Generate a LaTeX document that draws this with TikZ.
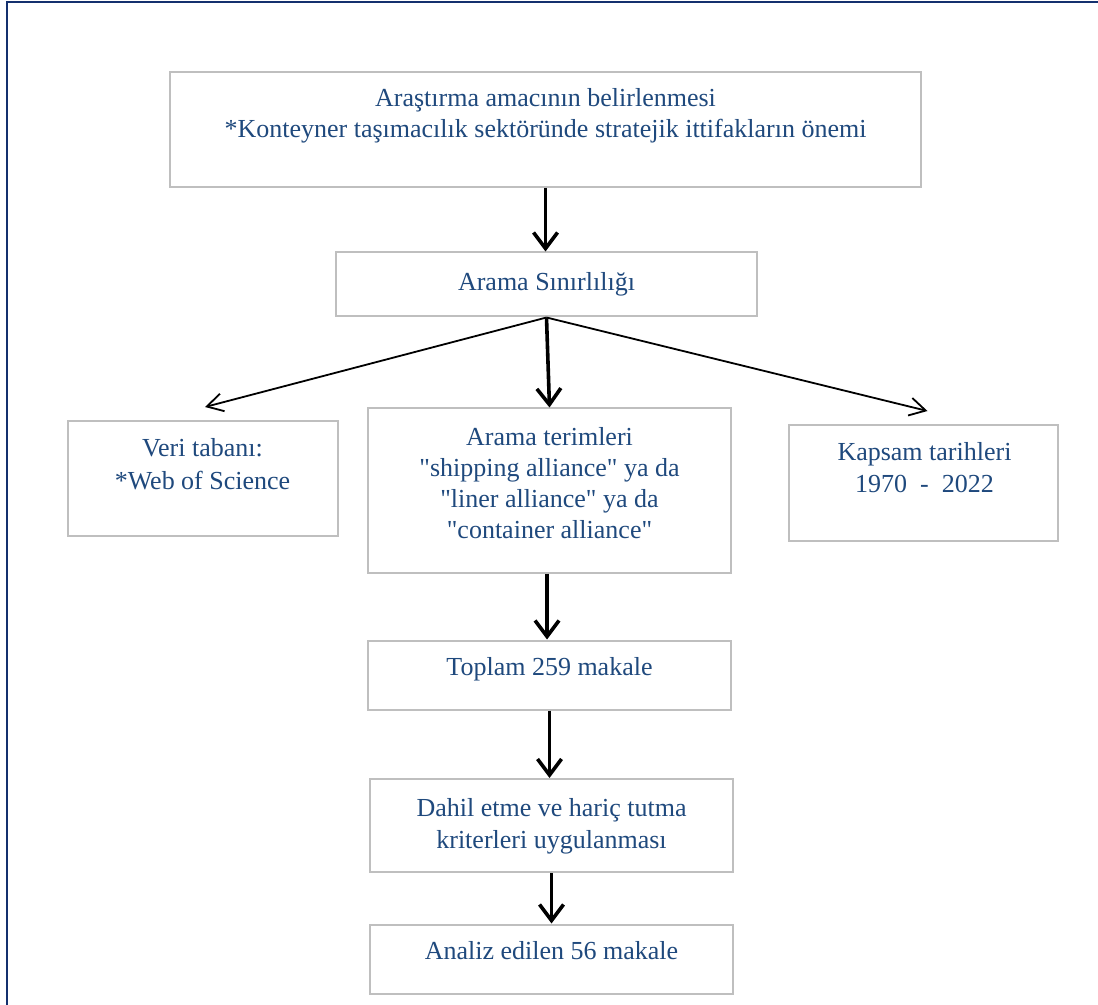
\documentclass[tikz,border=0pt]{standalone}
\usepackage{fontspec}
\setmainfont{Liberation Serif}[Ligatures=TeXOff]
\usetikzlibrary{arrows.meta}
\definecolor{txtblue}{HTML}{1F497D}
\definecolor{frameblue}{HTML}{14306E}
\definecolor{boxgray}{HTML}{BFBFBF}
\newcommand\mylines[1]{\begin{tabular}[t]{@{}c@{}}#1\end{tabular}}
\begin{document}
\begin{tikzpicture}[x=0.5pt,y=-0.5pt,
  box/.style 2 args={draw=boxgray,line width=1pt,inner sep=0pt,minimum width=#1*0.5pt,minimum height=#2*0.5pt},
  txt/.style={text=txtblue,inner sep=0pt,anchor=base,font=\fontsize{13pt}{15.5pt}\selectfont},
  thickarr/.style={line width=1.8pt,-{Straight Barb[length=8pt,width=12pt]}},
  thinarr/.style={line width=0.9pt,-{Straight Barb[length=8pt,width=9pt]}}]
\useasboundingbox (0,0) rectangle (1098,1005);
\fill[white] (0,0) rectangle (1098,1005);
\draw[frameblue,line width=1.2pt] (7,1005) -- (7,2) -- (1098,2);

\node[box={751}{115}] (b1) at (545.5,129.5) {};
\node[txt] (t1) at (545.5,107) {\mylines{Araştırma amacının belirlenmesi\\{}*Konteyner taşımacılık sektöründe stratejik ittifakların önemi}};

\node[box={421}{64}] (b2) at (546.5,284.5) {};
\node[txt] (t2) at (546.5,291) {Arama Sınırlılığı};

\node[box={270}{115}] (b3) at (203,478.5) {};
\node[txt] (t3) at (202.5,457) {\mylines{Veri tabanı:\\[1pt]{}*Web of Science}};

\node[box={363}{164}] (b4) at (549.5,490.5) {};
\node[txt] (t4) at (549.5,446) {\mylines{Arama terimleri\\ "shipping alliance" ya da\\ "liner alliance" ya da\\ "container alliance"}};

\node[box={269}{116}] (b5) at (923.5,483) {};
\node[txt] (t5) at (924.5,461) {\mylines{Kapsam tarihleri\\[0.5pt] 1970 \ - \ 2022}};

\node[box={363}{69}] (b6) at (549.5,675) {};
\node[txt] (t6) at (549.5,675) {Toplam 259 makale};

\node[box={363}{93}] (b7) at (551.5,825.5) {};
\node[txt] (t7) at (551.5,816) {\mylines{Dahil etme ve hariç tutma\\[0.5pt] kriterleri uygulanması}};

\node[box={363}{69}] (b8) at (551.5,959) {};
\node[txt] (t8) at (551.5,959) {Analiz edilen 56 makale};

\draw[thickarr] (b1.south) -- (b1.south |- b2.north);
\draw[thinarr] (b2.south) -- ([xshift=1pt,yshift=6.5pt]b3.north);
\draw[thickarr] (b2.south) -- (b4.north);
\draw[thinarr] (b2.south) -- ([xshift=2pt,yshift=6.5pt]b5.north);
\draw[thickarr] ([xshift=-1.25pt]b4.south) -- ([xshift=-1.25pt]b6.north);
\draw[thickarr] (b6.south) -- (b6.south |- b7.north);
\draw[thickarr] (b7.south) -- (b8.north);
\end{tikzpicture}
\end{document}
